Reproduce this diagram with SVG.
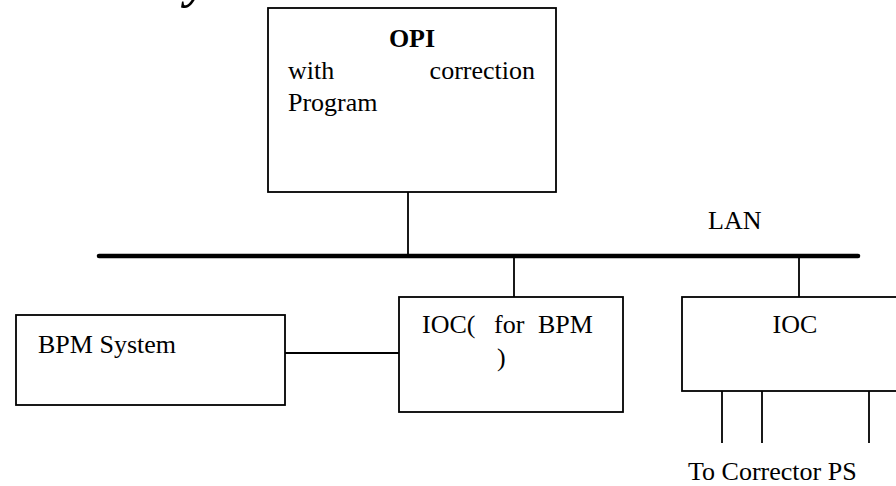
<svg xmlns="http://www.w3.org/2000/svg" width="896" height="486" viewBox="0 0 896 486">
  <style>
    .box { fill: #ffffff; stroke: #000000; stroke-width: 1.8; }
    .wire { fill: none; stroke: #000000; stroke-width: 1.8; }
    .bus { fill: none; stroke: #000000; stroke-width: 4.5; stroke-linecap: round; }
    .t { font-family: "Liberation Serif", "Times New Roman", serif; font-size: 26px; fill: #000000; }
    .b { font-weight: bold; }
  </style>
  <rect width="896" height="486" fill="#ffffff"/>
  <text class="t" x="186" y="-3" style="font-size:50px;font-weight:bold;font-style:italic">y</text>
  <g id="connectors">
    <line class="bus" x1="99" y1="256" x2="858" y2="256"/>
    <line class="wire" x1="408" y1="192" x2="408" y2="256"/>
    <line class="wire" x1="514" y1="256" x2="514" y2="297"/>
    <line class="wire" x1="799" y1="256" x2="799" y2="297"/>
    <line class="wire" x1="285" y1="353" x2="399" y2="353"/>
    <line class="wire" x1="722" y1="391" x2="722" y2="443"/>
    <line class="wire" x1="762" y1="391" x2="762" y2="443"/>
    <line class="wire" x1="869" y1="391" x2="869" y2="443"/>
  </g>
  <g id="opi">
    <rect class="box" x="268" y="8" width="288" height="184"/>
    <text class="t b" x="412" y="47" text-anchor="middle">OPI</text>
    <text class="t" x="288" y="79">with</text>
    <text class="t" x="535" y="79" text-anchor="end">correction</text>
    <text class="t" x="288" y="111">Program</text>
  </g>
  <g id="lan">
    <text class="t" x="708" y="229">LAN</text>
  </g>
  <g id="bpm-system">
    <rect class="box" x="16" y="315" width="269" height="90"/>
    <text class="t" x="38" y="353">BPM System</text>
  </g>
  <g id="ioc-bpm">
    <rect class="box" x="399" y="297" width="224" height="115"/>
    <text class="t" x="422" y="333">IOC(</text>
    <text class="t" x="494" y="333">for</text>
    <text class="t" x="538" y="333">BPM</text>
    <text class="t" x="497" y="366">)</text>
  </g>
  <g id="ioc">
    <rect class="box" x="682" y="297" width="230" height="94"/>
    <text class="t" x="795" y="333" text-anchor="middle">IOC</text>
  </g>
  <g id="corrector-label">
    <text class="t" x="688" y="480">To Corrector PS</text>
  </g>
</svg>
